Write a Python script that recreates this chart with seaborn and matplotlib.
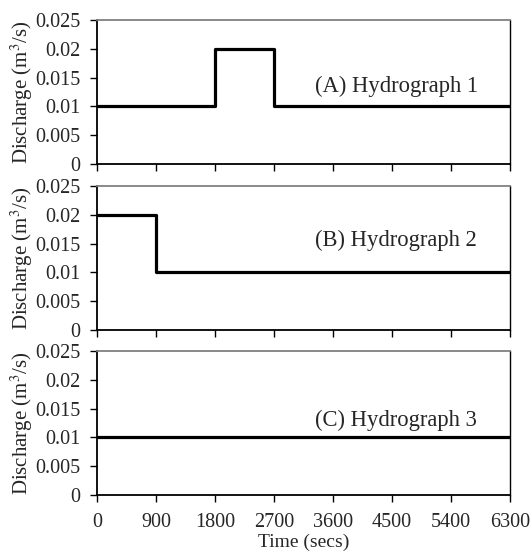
import numpy as np
import pandas as pd
import seaborn as sns
from matplotlib import pyplot as plt

# step hydrographs: time (s) where discharge changes, discharge (m3/s) from that time on
h1_time = [0, 1800, 2700, 6300]
h1_q = [0.01, 0.02, 0.01, 0.01]
h2_time = [0, 900, 6300]
h2_q = [0.02, 0.01, 0.01]
h3_time = [0, 6300]
h3_q = [0.01, 0.01]
labels = ["(A) Hydrograph 1", "(B) Hydrograph 2", "(C) Hydrograph 3"]
xticks = [0, 900, 1800, 2700, 3600, 4500, 5400, 6300]
yticks = [0, 0.005, 0.01, 0.015, 0.02, 0.025]
ytick_labels = ["0", "0.005", "0.01", "0.015", "0.02", "0.025"]

sns.set_style("ticks")
plt.rcParams['font.family'] = ['Liberation Serif', 'DejaVu Serif']
plt.rcParams['mathtext.fontset'] = 'stix'

fig = plt.figure(figsize=(5.31, 5.51), dpi=100)
left, width, height = 97 / 531, 413 / 531, 144 / 551
bottoms = [1 - 164 / 551, 1 - 330 / 551, 1 - 495 / 551]
text_y = [0.0134, 0.0155, 0.0129]

series = [(h1_time, h1_q), (h2_time, h2_q), (h3_time, h3_q)]
for i, ((t, q), lab) in enumerate(zip(series, labels)):
    ax = fig.add_axes([left, bottoms[i], width, height])
    df = pd.DataFrame({"time": t, "q": q})
    sns.lineplot(data=df, x="time", y="q", ax=ax, color="black",
                 linewidth=2.3, drawstyle="steps-post")
    ax.set_xlim(0, 6300)
    ax.set_ylim(0, 0.025)
    ax.set_xticks(xticks)
    ax.set_yticks(yticks)
    ax.set_yticklabels(ytick_labels, fontsize=14.5)
    if i == 2:
        ax.set_xticklabels([str(x) for x in xticks], fontsize=14.5)
        ax.set_xlabel("Time (secs)", fontsize=14, labelpad=1)
    else:
        ax.set_xticklabels([])
        ax.set_xlabel("")
    ax.set_ylabel("Discharge (m$^3$/s)", fontsize=15, labelpad=0)
    ax.tick_params(axis="y", direction="out", length=5, width=1, color="black", pad=7)
    ax.tick_params(axis="x", direction="out", length=5, width=1, color="black", pad=8)
    for side in ["left", "bottom"]:
        ax.spines[side].set_color("black")
        ax.spines[side].set_linewidth(1.3)
    ax.spines["top"].set_color("#808080")
    ax.spines["top"].set_linewidth(1.3)
    ax.spines["right"].set_color("black")
    ax.spines["right"].set_linewidth(1.0)
    ax.text(3330, text_y[i], lab, fontsize=16.3, va="center", ha="left")

fig.savefig("out.png", dpi=100)
